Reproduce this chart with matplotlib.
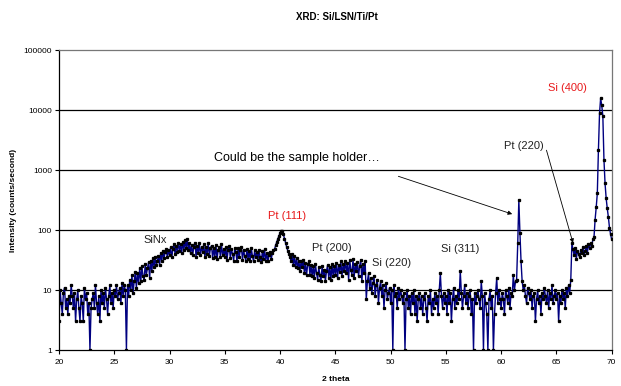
import numpy as np
import matplotlib
matplotlib.use("Agg")
from matplotlib import pyplot as plt
from matplotlib.ticker import FixedLocator, FixedFormatter

# 2 theta from 20 to 70 deg in 0.1 deg steps, one row per degree
start_2theta = 20.0
step_2theta = 0.1
counts = [
    3, 10, 6, 4, 9, 11, 5, 7, 4, 8,            # 20
    6, 12, 8, 5, 9, 3, 7, 10, 5, 3,            # 21
    8, 6, 3, 11, 7, 9, 4, 6, 1, 5,             # 22
    7, 9, 5, 12, 6, 4, 8, 3, 10, 6,            # 23
    9, 5, 11, 7, 4, 8, 12, 6, 9, 5,            # 24
    10, 8, 12, 7, 9, 11, 6, 13, 8, 12,         # 25
    10, 1, 12, 8, 15, 10, 18, 9, 14, 20,       # 26
    11, 19, 13, 23, 14, 25, 17, 15, 27, 18,    # 27
    23, 29, 16, 31, 21, 34, 24, 36, 26, 31,    # 28
    37, 26, 41, 31, 45, 34, 43, 48, 35, 47,    # 29
    38, 52, 35, 48, 58, 40, 55, 44, 62, 45,    # 30
    58, 42, 63, 47, 68, 50, 72, 46, 60, 41,    # 31
    57, 39, 53, 62, 36, 55, 42, 60, 38, 52,    # 32
    44, 58, 35, 52, 40, 61, 37, 50, 55, 34,    # 33
    50, 36, 56, 33, 47, 53, 36, 58, 38, 48,    # 34
    36, 52, 32, 46, 55, 34, 48, 40, 31, 50,    # 35
    44, 30, 50, 35, 46, 52, 32, 47, 37, 31,    # 36
    48, 33, 45, 31, 50, 37, 30, 46, 35, 43,    # 37
    32, 47, 35, 29, 45, 33, 48, 31, 42, 30,    # 38
    38, 44, 33, 41, 46, 48, 56, 63, 72, 80,    # 39
    90, 98, 95, 85, 72, 60, 52, 45, 40, 36,    # 40
    30, 40, 26, 37, 24, 34, 23, 31, 21, 30,    # 41
    24, 32, 19, 28, 18, 27, 30, 18, 26, 17,    # 42
    25, 16, 27, 19, 15, 24, 18, 14, 25, 17,    # 43
    22, 14, 21, 26, 16, 24, 15, 27, 17, 25,    # 44
    18, 28, 16, 26, 20, 30, 17, 27, 21, 31,    # 45
    19, 28, 15, 32, 22, 18, 33, 16, 27, 21,    # 46
    29, 17, 25, 32, 14, 27, 19, 30, 7, 14,     # 47
    19, 11, 16, 9, 13, 17, 8, 12, 15, 6,       # 48
    11, 14, 8, 12, 5, 10, 13, 7, 9, 11,        # 49
    6, 10, 1, 12, 8, 9, 5, 11, 7, 10,          # 50
    8, 6, 9, 1, 7, 10, 5, 8, 4, 9,             # 51
    6, 10, 4, 8, 3, 7, 9, 5, 8, 4,             # 52
    7, 9, 5, 3, 8, 6, 10, 4, 7, 5,             # 53
    9, 6, 8, 4, 10, 19, 8, 5, 9, 6,            # 54
    8, 4, 10, 6, 9, 3, 7, 11, 5, 8,            # 55
    6, 10, 7, 21, 9, 5, 8, 12, 6, 9,           # 56
    5, 8, 10, 4, 7, 1, 9, 6, 8, 10,            # 57
    7, 5, 14, 8, 1, 9, 6, 4, 1, 7,             # 58
    10, 5, 8, 1, 4, 9, 16, 6, 10, 7,           # 59
    5, 9, 7, 4, 10, 8, 6, 11, 5, 9,            # 60
    8, 18, 10, 14, 15, 60, 316, 90, 30, 14,    # 61
    10, 12, 8, 6, 11, 9, 7, 10, 5, 8,          # 62
    9, 3, 7, 10, 6, 8, 4, 9, 7, 11,            # 63
    8, 6, 10, 5, 9, 7, 12, 6, 8, 10,           # 64
    7, 9, 3, 8, 6, 10, 7, 9, 5, 11,            # 65
    8, 12, 9, 15, 60, 48, 38, 50, 33, 45,      # 66
    40, 35, 47, 42, 52, 38, 45, 55, 42, 58,    # 67
    50, 60, 55, 70, 76, 150, 240, 410, 2150, 8800,        # 68
    15800, 12000, 8000, 1500, 600, 340, 230, 165, 110, 85,  # 69
    70,                                        # 70
]
two_theta = start_2theta + step_2theta * np.arange(len(counts))

y_ticks = [1, 10, 100, 1000, 10000, 100000]
y_tick_labels = ["1", "10", "100", "1000", "10000", "100000"]
x_ticks = [20, 25, 30, 35, 40, 45, 50, 55, 60, 65, 70]

# peak labels: text, x, y, colour
labels = [
    ("SiNx", 28.75, 68, "#222222"),
    ("Pt (111)", 40.6, 175, "#e8191b"),
    ("Pt (200)", 44.7, 50, "#222222"),
    ("Si (220)", 50.1, 28, "#222222"),
    ("Si (311)", 56.3, 48, "#222222"),
    ("Pt (220)", 62.1, 2500, "#222222"),
    ("Si (400)", 66.0, 23000, "#e8191b"),
]

plt.rcParams['font.family'] = ['Liberation Sans', 'DejaVu Sans']

fig = plt.figure(figsize=(6.21, 3.86), dpi=100)
ax = fig.add_axes([0.095, 0.093, 0.89, 0.777])

ax.set_yscale("log")
ax.set_xlim(20, 70)
ax.set_ylim(1, 100000)

for yv in y_ticks[1:-1]:
    ax.axhline(yv, color="black", lw=0.9, zorder=1)

ax.plot(two_theta, counts, color="#000080", lw=1.0, zorder=2, clip_on=True)
ax.plot(two_theta, counts, ls="none", marker="s", ms=1.4, color="black", zorder=3)

ax.yaxis.set_major_locator(FixedLocator(y_ticks))
ax.yaxis.set_major_formatter(FixedFormatter(y_tick_labels))
ax.yaxis.set_minor_locator(FixedLocator([]))
ax.set_xticks(x_ticks)
ax.tick_params(axis="both", labelsize=6, direction="out", length=3, width=0.8, colors="black")
ax.tick_params(axis="y", pad=2)

for side in ["left", "bottom"]:
    ax.spines[side].set_color("black")
    ax.spines[side].set_linewidth(0.9)
for side in ["top", "right"]:
    ax.spines[side].set_color("#777777")
    ax.spines[side].set_linewidth(0.9)

ax.set_xlabel("2 theta", fontsize=6, fontweight="bold", labelpad=7)
ax.set_ylabel("Intensity (counts/second)", fontsize=6, fontweight="bold", labelpad=5)
fig.text(0.543, 0.955, "XRD: Si/LSN/Ti/Pt", ha="center", va="center", fontsize=7, fontweight="bold")

for txt, xv, yv, col in labels:
    ax.text(xv, yv, txt, ha="center", va="center", fontsize=8, color=col)

ax.text(34.0, 1580, "Could be the sample holder\u2026", ha="left", va="center", fontsize=9, color="black")
arrow_style = dict(arrowstyle="-|>", color="black", lw=0.6, mutation_scale=6, shrinkA=0, shrinkB=0)
ax.annotate("", xy=(61.0, 185), xytext=(50.7, 790), arrowprops=arrow_style)
ax.annotate("", xy=(66.5, 61), xytext=(64.1, 2150), arrowprops=arrow_style)

fig.savefig("out.png", dpi=100)
